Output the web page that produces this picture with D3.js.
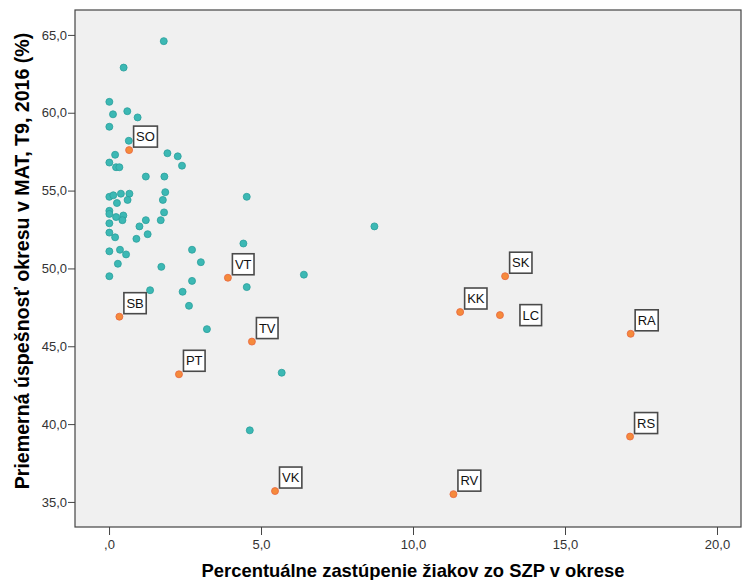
<!DOCTYPE html>
<meta charset="utf-8">
<style>
body { margin: 0; background: #fff; }
svg { display: block; font-family: Arial, "Liberation Sans", sans-serif; }
.tick text { font-size: 13px; fill: #333; }
.tick line { stroke: #444; }
.title { font-weight: bold; fill: #000; }
.lbl text { font-size: 13px; fill: #111; }
.lbl rect { fill: #fff; stroke: #4a4a4a; stroke-width: 1.6; }
</style>
<svg width="742" height="580"></svg>
<script src="https://d3js.org/d3.v7.min.js"></script>
<script>

// districts without label (teal)
var otherX = [1.80, 0.48, 0.01, 0.13, 0.60, 0.94, 0.01, 0.65, 0.20, 1.92,
              2.26, 2.40, 0.01, 0.23, 0.34, 1.21, 1.82, 1.85, 1.77, 0.01,
              0.14, 0.39, 0.67, 0.61, 0.26, 0.01, 0.01, 0.23, 0.47, 0.44,
              1.81, 1.70, 1.21, 1.00, 0.01, 0.01, 0.20, 1.27, 0.90, 0.01,
              0.36, 0.56, 0.29, 1.72, 0.01, 2.73, 3.02, 2.73, 1.35, 2.42,
              4.42, 4.53, 2.63, 3.22, 5.68, 4.63, 4.53, 8.73, 6.41];
var otherY = [64.6, 62.9, 60.7, 59.9, 60.1, 59.7, 59.1, 58.2, 57.3, 57.4,
              57.2, 56.6, 56.8, 56.5, 56.5, 55.9, 55.9, 54.9, 54.4, 54.6,
              54.7, 54.8, 54.8, 54.4, 54.2, 53.7, 53.5, 53.3, 53.4, 53.1,
              53.6, 53.1, 53.1, 52.7, 52.9, 52.3, 52.0, 52.2, 51.9, 51.1,
              51.2, 50.9, 50.3, 50.1, 49.5, 51.2, 50.4, 49.2, 48.6, 48.5,
              51.6, 48.8, 47.6, 46.1, 43.3, 39.6, 54.6, 52.7, 49.6];

// labelled districts (orange)
var namedIds = ["SO", "SB", "PT", "VT", "TV", "VK", "RV", "SK", "KK", "LC", "RA", "RS"];
var namedX = [0.66, 0.34, 2.30, 3.91, 4.70, 5.46, 11.33, 13.03, 11.55, 12.86, 17.16, 17.14];
var namedY = [57.6, 46.9, 43.2, 49.4, 45.3, 35.7, 35.5, 49.5, 47.2, 47.0, 45.8, 39.2];

var xTicks = [0, 5, 10, 15, 20];
var yTicks = [35, 40, 45, 50, 55, 60, 65];

var svg = d3.select("svg");
var plotL = 75, plotR = 741, plotT = 10, plotB = 527;

var x = d3.scaleLinear().domain([-1.12, 20.79]).range([plotL, plotR]);
var y = d3.scaleLinear().domain([33.39, 66.6]).range([plotB, plotT]);

var fmt = function(d) {
  var s = d3.format(".1f")(d).replace(".", ",");
  return d === 0 ? ",0" : s;
};

svg.append("rect")
    .attr("x", plotL).attr("y", plotT)
    .attr("width", plotR - plotL).attr("height", plotB - plotT)
    .attr("fill", "#f0f0f0")
    .attr("stroke", "#444").attr("stroke-width", 1.2);

var gx = svg.append("g")
    .attr("transform", "translate(0," + plotB + ")")
    .call(d3.axisBottom(x).tickValues(xTicks).tickFormat(fmt).tickSize(8).tickPadding(5));
gx.select(".domain").remove();

var gy = svg.append("g")
    .attr("transform", "translate(" + plotL + ",0)")
    .call(d3.axisLeft(y).tickValues(yTicks).tickFormat(fmt).tickSize(7).tickPadding(1));
gy.select(".domain").remove();

svg.append("text")
    .attr("class", "title")
    .attr("x", 413).attr("y", 577)
    .attr("text-anchor", "middle")
    .style("font-size", "18.4px")
    .text("Percentuálne zastúpenie žiakov zo SZP v okrese");

svg.append("text")
    .attr("class", "title")
    .attr("transform", "translate(29," + 261 + ") rotate(-90)")
    .attr("text-anchor", "middle")
    .style("font-size", "19.6px")
    .text("Priemerná úspešnosť okresu v MAT, T9, 2016 (%)");

svg.append("g").selectAll("circle")
    .data(d3.range(otherX.length))
  .enter().append("circle")
    .attr("cx", function(i) { return x(otherX[i]); })
    .attr("cy", function(i) { return y(otherY[i]); })
    .attr("r", 3.5)
    .attr("fill", "#3cb8b4")
    .attr("stroke", "#2a9f9c")
    .attr("stroke-width", 0.8);

svg.append("g").selectAll("circle")
    .data(d3.range(namedIds.length))
  .enter().append("circle")
    .attr("cx", function(i) { return x(namedX[i]); })
    .attr("cy", function(i) { return y(namedY[i]); })
    .attr("r", 3.5)
    .attr("fill", "#f58a3b")
    .attr("stroke", "#e8653f")
    .attr("stroke-width", 0.8);

// LC label sits to the right of its point instead of above
var beside = { "LC": true };

var lbl = svg.append("g").selectAll("g")
    .data(d3.range(namedIds.length))
  .enter().append("g")
    .attr("class", "lbl");

lbl.each(function(i) {
  var g = d3.select(this);
  var t = g.append("text").text(namedIds[i]);
  var w = t.node().getComputedTextLength() + 5, h = 21;
  var px = x(namedX[i]), py = y(namedY[i]);
  var bx = beside[namedIds[i]] ? px + 20 : px + 4.5;
  var by = beside[namedIds[i]] ? py - h / 2 : py - 3 - h;
  g.insert("rect", "text")
      .attr("x", bx).attr("y", by)
      .attr("width", w).attr("height", h);
  t.attr("x", bx + w / 2).attr("y", by + h / 2)
      .attr("text-anchor", "middle")
      .attr("dy", "0.36em");
});

</script>
